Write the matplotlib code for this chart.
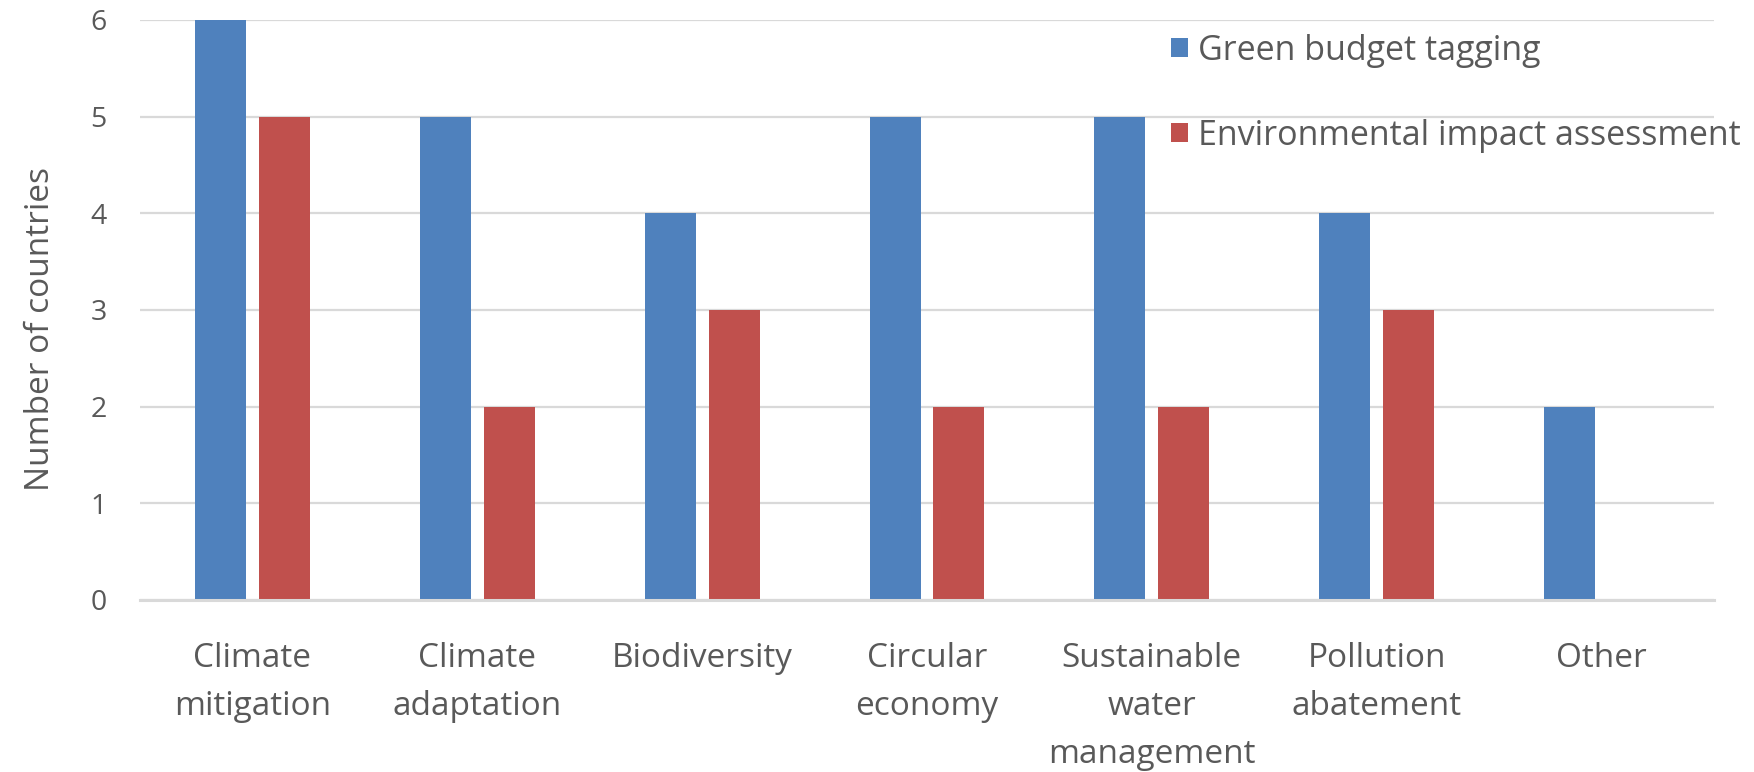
import matplotlib
matplotlib.use("Agg")
import matplotlib.pyplot as plt
import numpy as np
from matplotlib.patches import Patch

categories = ["Climate\nmitigation", "Climate\nadaptation", "Biodiversity", "Circular\neconomy",
              "Sustainable\nwater\nmanagement", "Pollution\nabatement", "Other"]
green_budget = [6, 5, 4, 5, 5, 4, 2]
env_impact = [5, 2, 3, 2, 2, 3, 0]
series_names = ["Green budget tagging", "Environmental impact assessment"]
yticks = [0, 1, 2, 3, 4, 5, 6]

plt.rcParams['font.family'] = ['Open Sans', 'DejaVu Sans']
txt = '#595959'
blue = '#4F81BD'
red = '#C0504D'

fig = plt.figure(figsize=(17.54, 7.72), dpi=100)
ax = fig.add_axes([140/1754, 1-600/772, (1714-140)/1754, (600-20)/772])

x = np.arange(len(categories))
w = 0.227
off = 0.142
ax.bar(x - off, green_budget, w, color=blue, zorder=3)
ax.bar(x + off, env_impact, w, color=red, zorder=3)

ax.set_xlim(-0.5, len(categories) - 0.5)
ax.set_ylim(0, 6)
ax.set_yticks(yticks)
ax.set_yticklabels([str(v) for v in yticks])
ax.set_xticks(x)
ax.set_xticklabels(categories, fontsize=24, color=txt, linespacing=1.6, va='top')
ax.tick_params(axis='x', length=0, pad=30)
ax.tick_params(axis='y', length=0, pad=24, labelsize=20.5, labelcolor=txt)
ax.yaxis.grid(True, color='#D9D9D9', linewidth=1.6, zorder=0)
for s in ['top', 'right', 'left']:
    ax.spines[s].set_visible(False)
ax.spines['bottom'].set_color('#D9D9D9')
ax.spines['bottom'].set_linewidth(2.2)
ax.spines['bottom'].set_zorder(4)

ax.set_ylabel("Number of countries", fontsize=24, color=txt, labelpad=24)
ax.yaxis.label.set_y(0.467)

handles = [Patch(facecolor=blue), Patch(facecolor=red)]
leg = ax.legend(handles, series_names, loc='upper left', bbox_to_anchor=((1157-140)/1574, 1.0),
                frameon=False, fontsize=24.5, labelcolor=txt, handlelength=0.5, handleheight=0.5,
                handletextpad=0.3, labelspacing=1.5, borderaxespad=0)

fig.savefig("out.png", dpi=100)
